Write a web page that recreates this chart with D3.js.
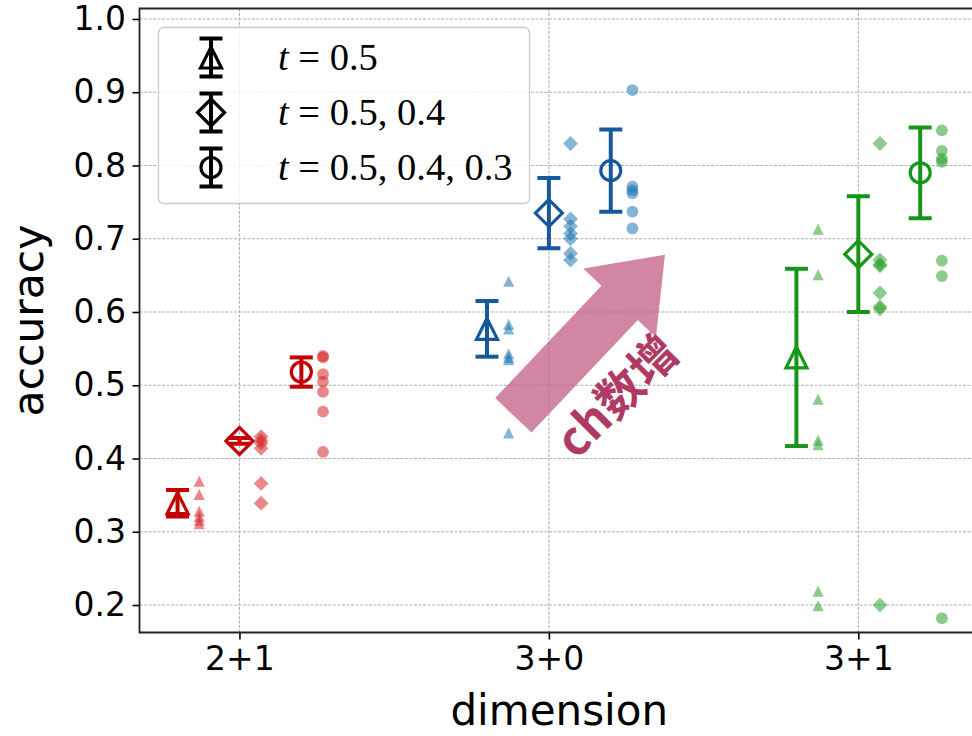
<!DOCTYPE html>
<html>
<head>
<meta charset="utf-8">
<script src="https://cdn.jsdelivr.net/npm/d3@7"></script>
<style>
  body { margin: 0; background: #fff; }
  svg { display: block; }
</style>
</head>
<body>
<script>
// categories on the x axis
const categories = ["2+1", "3+0", "3+1"];
// legend labels (t values)
const seriesLabels = ["0.5", "0.5, 0.4", "0.5, 0.4, 0.3"];
const seriesMarkers = ["tri", "dia", "circ"];

// errorbar centres and half-widths, per series, per category
const meanT1 = [0.339, 0.577, 0.538];
const errT1 = [0.018, 0.038, 0.121];
const meanT2 = [0.424, 0.735, 0.679];
const errT2 = [0.004, 0.048, 0.079];
const meanT3 = [0.518, 0.793, 0.790];
const errT3 = [0.020, 0.056, 0.062];

// individual runs (scatter), per series, per category
const runsT1 = [
  [0.369, 0.351, 0.328, 0.321, 0.316, 0.311],
  [0.642, 0.583, 0.577, 0.543, 0.538, 0.535, 0.435],
  [0.713, 0.651, 0.481, 0.425, 0.419, 0.219, 0.199]
];
const runsT2 = [
  [0.430, 0.425, 0.421, 0.414, 0.366, 0.339],
  [0.830, 0.727, 0.717, 0.707, 0.700, 0.680, 0.671],
  [0.830, 0.671, 0.665, 0.663, 0.626, 0.607, 0.604, 0.200]
];
const runsT3 = [
  [0.540, 0.538, 0.515, 0.505, 0.491, 0.464, 0.409],
  [0.903, 0.771, 0.766, 0.762, 0.737, 0.714],
  [0.848, 0.820, 0.809, 0.805, 0.670, 0.649, 0.182]
];

const yTicks = [0.2, 0.3, 0.4, 0.5, 0.6, 0.7, 0.8, 0.9, 1.0];

// annotation arrow (data coords) and its label
const arrowTail = [0.885, 0.459];
const arrowTip = [1.375, 0.678];
const arrowText = "ch数增";
const arrowTextPos = [1.212, 0.489];

const means = [meanT1, meanT2, meanT3];
const errs = [errT1, errT2, errT3];
const runs = [runsT1, runsT2, runsT3];

const errColors = ["#c40000", "#15599b", "#169619"];
const runColors = ["#d62728", "#1f77b4", "#2ca02c"];
const seriesOffset = [-0.2, 0, 0.2];
const runShift = 0.07;

const width = 972, height = 736;
const plotL = 139.5, plotR = 979, plotT = 8.5, plotB = 632.5;

const x = d3.scaleLinear().domain([-0.323, 2.39]).range([plotL, plotR]);
const y = d3.scaleLinear().domain([0.1625, 1.0143]).range([plotB, plotT]);

const svg = d3.select("body").append("svg")
  .attr("width", width)
  .attr("height", height)
  .style("font-family", "'DejaVu Sans', sans-serif");

svg.append("defs").append("clipPath").attr("id", "plot-clip")
  .append("rect")
  .attr("x", plotL).attr("y", plotT)
  .attr("width", plotR - plotL).attr("height", plotB - plotT);

// grid
const grid = svg.append("g").attr("stroke", "#b0b0b0").attr("stroke-width", 1.1)
  .attr("stroke-dasharray", "3,1.5");
grid.selectAll(".hgrid").data(yTicks).enter().append("line")
  .attr("x1", plotL).attr("x2", plotR)
  .attr("y1", d => y(d)).attr("y2", d => y(d));
grid.selectAll(".vgrid").data(categories).enter().append("line")
  .attr("y1", plotT).attr("y2", plotB)
  .attr("x1", (d, i) => x(i)).attr("x2", (d, i) => x(i));

function markerPath(kind, s) {
  if (kind === "tri") return `M0,${-s}L${s},${s}L${-s},${s}Z`;
  if (kind === "dia") return `M0,${-s}L${s},0L0,${s}L${-s},0Z`;
  return d3.arc()({ innerRadius: 0, outerRadius: s, startAngle: 0, endAngle: 2 * Math.PI });
}

const plot = svg.append("g").attr("clip-path", "url(#plot-clip)");

// scatter of the individual runs
const runSize = { tri: 5.6, dia: 7.4, circ: 5.9 };
runs.forEach((seriesRuns, s) => {
  seriesRuns.forEach((vals, i) => {
    plot.append("g").selectAll("path").data(vals).enter().append("path")
      .attr("d", markerPath(seriesMarkers[s], runSize[seriesMarkers[s]]))
      .attr("transform", d => `translate(${x(i + seriesOffset[s] + runShift)},${y(d)})`)
      .attr("fill", runColors[i])
      .attr("fill-opacity", 0.55);
  });
});

// errorbars
const errSize = { tri: 10.5, dia: 13.5, circ: 10 };
const capHalf = 11.5;
means.forEach((m, s) => {
  m.forEach((v, i) => {
    const cx = x(i + seriesOffset[s]);
    const g = plot.append("g").attr("stroke", errColors[i]).attr("fill", "none");
    g.append("line").attr("x1", cx).attr("x2", cx)
      .attr("y1", y(v - errs[s][i])).attr("y2", y(v + errs[s][i]))
      .attr("stroke-width", 4);
    [v - errs[s][i], v + errs[s][i]].forEach(c => {
      g.append("line").attr("x1", cx - capHalf).attr("x2", cx + capHalf)
        .attr("y1", y(c)).attr("y2", y(c)).attr("stroke-width", 4);
    });
    g.append("path")
      .attr("d", markerPath(seriesMarkers[s], errSize[seriesMarkers[s]]))
      .attr("transform", `translate(${cx},${y(v)})`)
      .attr("stroke-width", 3.2)
      .attr("stroke-linejoin", "miter");
  });
});

// arrow (symmetric head, built in pixel space from data endpoints)
{
  const tx = x(arrowTail[0]), ty = y(arrowTail[1]);
  const px = x(arrowTip[0]), py = y(arrowTip[1]);
  const len = Math.hypot(px - tx, py - ty);
  const dx = (px - tx) / len, dy = (py - ty) / len;
  const nx = dy, ny = -dx; // left-hand normal
  const shaftHalf = 25, headHalf = 50, headLen = 66;
  const bx = px - dx * headLen, by = py - dy * headLen;
  const pts = [
    [tx + nx * shaftHalf, ty + ny * shaftHalf],
    [bx + nx * shaftHalf, by + ny * shaftHalf],
    [bx + nx * headHalf, by + ny * headHalf],
    [px, py],
    [bx - nx * headHalf, by - ny * headHalf],
    [bx - nx * shaftHalf, by - ny * shaftHalf],
    [tx - nx * shaftHalf, ty - ny * shaftHalf]
  ];
  plot.append("path")
    .attr("d", "M" + pts.map(p => p.join(",")).join("L") + "Z")
    .attr("fill", "#c25d86")
    .attr("fill-opacity", 0.75);

  plot.append("text")
    .attr("transform", `translate(${x(arrowTextPos[0])},${y(arrowTextPos[1])}) rotate(-45)`)
    .attr("text-anchor", "middle")
    .attr("dominant-baseline", "central")
    .attr("font-family", "'Noto Sans CJK SC', sans-serif")
    .attr("font-weight", "bold")
    .attr("font-size", 47)
    .attr("fill", "#b03a66")
    .text(arrowText);
}

// axes
const yAxis = svg.append("g").attr("transform", `translate(${plotL},0)`)
  .call(d3.axisLeft(y).tickValues(yTicks).tickFormat(d3.format(".1f"))
    .tickSize(7).tickPadding(6.5));
const xAxis = svg.append("g").attr("transform", `translate(0,${plotB})`)
  .call(d3.axisBottom(x).tickValues([0, 1, 2]).tickFormat(i => categories[i])
    .tickSize(7).tickPadding(7.5));
[yAxis, xAxis].forEach(a => {
  a.select(".domain").remove();
  a.selectAll(".tick line").attr("stroke", "#000").attr("stroke-width", 1.6);
  a.selectAll(".tick text").attr("font-size", 33).attr("fill", "#000")
    .attr("font-family", "'DejaVu Sans', sans-serif");
});

// spines
const spines = svg.append("g").attr("stroke", "#222").attr("stroke-width", 1.8).attr("fill", "none");
spines.append("path").attr("d", `M${plotR},${plotT}H${plotL}V${plotB}H${plotR}`);

// axis labels
svg.append("text")
  .attr("x", (plotL + plotR) / 2).attr("y", 725)
  .attr("text-anchor", "middle").attr("font-size", 42).attr("fill", "#000")
  .text("dimension");
svg.append("text")
  .attr("transform", `translate(43,${(plotT + plotB) / 2}) rotate(-90)`)
  .attr("text-anchor", "middle").attr("font-size", 42.5).attr("fill", "#000")
  .text("accuracy");

// legend
const legend = svg.append("g");
legend.append("rect")
  .attr("x", 158.5).attr("y", 27.5).attr("width", 371).attr("height", 176)
  .attr("rx", 5).attr("fill", "#fff").attr("fill-opacity", 0.8)
  .attr("stroke", "#cccccc").attr("stroke-width", 1.3);
seriesLabels.forEach((lab, s) => {
  const cy = 57.5 + s * 55;
  const hx = 211;
  const g = legend.append("g").attr("stroke", "#000").attr("fill", "none");
  g.append("line").attr("x1", hx).attr("x2", hx).attr("y1", cy - 19).attr("y2", cy + 19)
    .attr("stroke-width", 4);
  [cy - 19, cy + 19].forEach(c => g.append("line")
    .attr("x1", hx - capHalf).attr("x2", hx + capHalf).attr("y1", c).attr("y2", c)
    .attr("stroke-width", 4));
  g.append("path").attr("d", markerPath(seriesMarkers[s], errSize[seriesMarkers[s]]))
    .attr("transform", `translate(${hx},${cy})`).attr("stroke-width", 3.2);
  const t = legend.append("text")
    .attr("x", 278).attr("y", cy + 12.5)
    .attr("font-family", "'Liberation Serif', serif")
    .attr("font-size", 38.5).attr("fill", "#000");
  t.append("tspan").attr("font-style", "italic").text("t");
  t.append("tspan").text(" = " + lab);
});
</script>
</body>
</html>
